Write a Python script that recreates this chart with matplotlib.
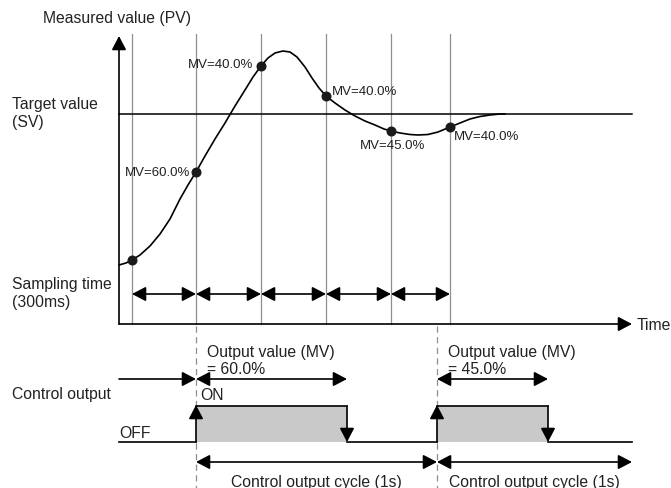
import matplotlib.pyplot as plt

plt.rcParams["font.family"] = ["Liberation Sans", "DejaVu Sans"]

# === Diagram data (pixel space of the 671x489 picture, y grows downwards) ===
AXIS_X0 = 119          # left edge of time axis
TIME_AXIS_Y = 325      # y of the time axis
SV_Y = 115             # target value level

# sampling instants and measured value at each sample
SAMPLE_X = [132, 196, 261, 326, 391, 450]
SAMPLE_PV = [261, 173, 67, 97, 132, 128]
MV_LABELS = [None, "MV=60.0%", "MV=40.0%", "MV=40.0%", "MV=45.0%", "MV=40.0%"]

PV_X = [119, 126, 132, 140, 150, 160, 170, 180, 188, 196, 205, 215, 225, 235,
        245, 253, 261, 268, 275, 283, 290, 297, 305, 312, 319, 326, 335, 345,
        355, 365, 375, 384, 391, 400, 410, 418, 428, 438, 450, 460, 470, 480,
        490, 500, 505]
PV_Y = [266, 264, 261, 256, 247, 235, 220, 200, 186, 173, 157, 140, 124, 107,
        91, 78, 67, 59, 54, 52, 53, 58, 68, 79, 89, 97, 104, 111, 117, 122,
        126, 130, 132, 134, 135.5, 136, 135.5, 133, 128, 124, 120, 117.5,
        116, 115, 115]

# control output pulses
PULSE_ON = [196, 437]
PULSE_OFF = [347, 548]
PULSE_MV = ["60.0%", "45.0%"]
CYCLE_EDGES = [196, 437, 632]

OFF_Y = 443
ON_Y = 407

FS = 11.3
FS_SMALL = 9.5
GRAY = "#8f8f8f"


def arrow(ax, x0, y0, x1, y1, style="-|>"):
    ax.annotate("", xy=(x1, y1), xytext=(x0, y0),
                arrowprops=dict(arrowstyle=style + ",head_length=0.42,head_width=0.22",
                                mutation_scale=20, color="black", lw=1.2,
                                shrinkA=0, shrinkB=0))


fig = plt.figure(figsize=(6.71, 4.89), dpi=100)
ax = fig.add_axes([0, 0, 1, 1])
ax.set_xlim(0, 671)
ax.set_ylim(489, 0)
ax.axis("off")

# sampling grid lines
for x in SAMPLE_X:
    ax.plot([x, x], [35, TIME_AXIS_Y], color=GRAY, lw=0.9, zorder=1)

# dashed guides at pulse starts
for x in PULSE_ON:
    ax.plot([x, x], [327, 489], color=GRAY, lw=0.9, ls=(0, (5, 3.5)), zorder=1)

# axes with arrowheads
arrow(ax, AXIS_X0, TIME_AXIS_Y, AXIS_X0, 37)
arrow(ax, AXIS_X0, TIME_AXIS_Y, 632, TIME_AXIS_Y)

# target value line and PV curve
ax.plot([AXIS_X0, 632], [SV_Y, SV_Y], color="black", lw=1.1, zorder=2)
ax.plot(PV_X, PV_Y, color="black", lw=1.2, zorder=3, solid_capstyle="round")
ax.plot(SAMPLE_X, SAMPLE_PV, "o", color="#1a1a1a", ms=6.2, zorder=4)

# MV labels next to samples: (dx, dy, ha)
offsets = [None, (-6, 0, "right"), (-8, -2, "right"), (6, -5, "left"),
           (-31, 14, "left"), (4, 9, "left")]
for x, y, lab, off in zip(SAMPLE_X, SAMPLE_PV, MV_LABELS, offsets):
    if lab is None:
        continue
    dx, dy, ha = off
    ax.text(x + dx, y + dy, lab, fontsize=FS_SMALL, ha=ha, va="center",
            color="#222222")

# sampling period arrows
for a, b in zip(SAMPLE_X[:-1], SAMPLE_X[1:]):
    arrow(ax, a, 295, b, 295, style="<|-|>")

# text labels
ax.text(43, 19, "Measured value (PV)", fontsize=FS, va="center", color="#222222")
ax.text(12, 104, "Target value", fontsize=FS, va="center", color="#222222")
ax.text(12, 122, "(SV)", fontsize=FS, va="center", color="#222222")
ax.text(12, 285, "Sampling time", fontsize=FS, va="center", color="#222222")
ax.text(12, 303, "(300ms)", fontsize=FS, va="center", color="#222222")
ax.text(637, 326, "Time", fontsize=FS, va="center", color="#222222")
ax.text(12, 395, "Control output", fontsize=FS, va="center", color="#222222")
ax.text(200, 395, "ON", fontsize=FS, va="center", color="#222222")
ax.text(119, 433, "OFF", fontsize=FS, va="center", color="#222222")

# output value arrows and pulses
arrow(ax, AXIS_X0, 380, PULSE_ON[0], 380)
for on, off, mv in zip(PULSE_ON, PULSE_OFF, PULSE_MV):
    ax.text(on + 11, 352, "Output value (MV)", fontsize=FS, va="center",
            color="#222222")
    ax.text(on + 11, 370, "= " + mv, fontsize=FS, va="center", color="#222222")
    arrow(ax, on, 380, off, 380, style="<|-|>")
    ax.fill_between([on, off], ON_Y, OFF_Y, color="#c9c9c9", lw=0, zorder=1)
    ax.plot([on, off], [ON_Y, ON_Y], color="black", lw=1.2, zorder=2)
    arrow(ax, on, OFF_Y, on, ON_Y - 1)
    arrow(ax, off, ON_Y, off, OFF_Y)

# OFF baseline segments
base_x = [AXIS_X0] + PULSE_OFF
base_end = PULSE_ON + [632]
for a, b in zip(base_x, base_end):
    ax.plot([a, b], [OFF_Y, OFF_Y], color="black", lw=1.2, zorder=2)

# control output cycle arrows
for a, b in zip(CYCLE_EDGES[:-1], CYCLE_EDGES[1:]):
    arrow(ax, a, 463, b, 463, style="<|-|>")
    ax.text((a + b) / 2, 482, "Control output cycle (1s)", fontsize=FS,
            ha="center", va="center", color="#222222")

fig.savefig("out.png", dpi=100)
